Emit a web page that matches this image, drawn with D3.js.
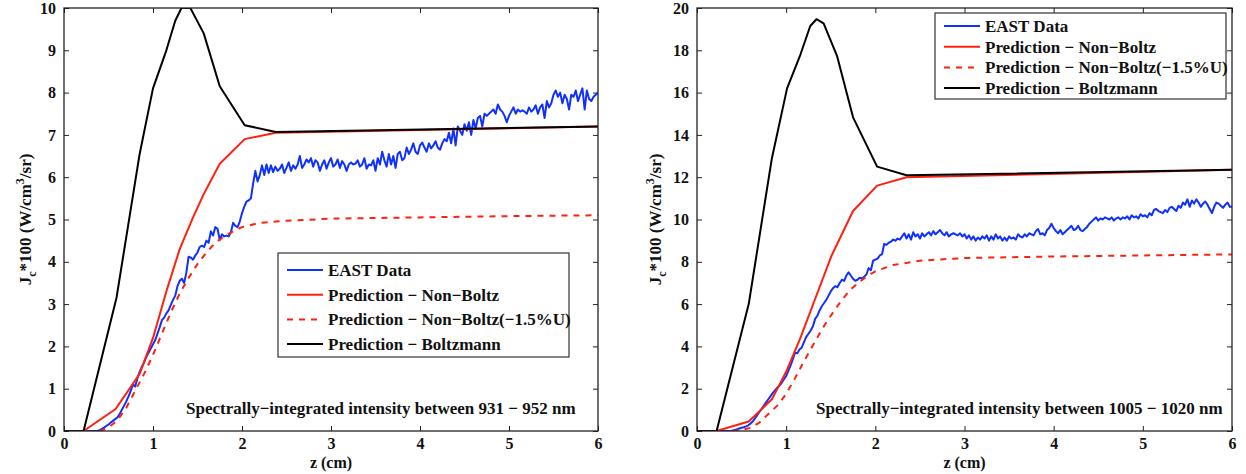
<!DOCTYPE html>
<html>
<head>
<meta charset="utf-8">
<script src="https://d3js.org/d3.v7.min.js"></script>
<style>
  body { margin: 0; background: #fff; }
  svg text { font-family: "Liberation Serif", "Times New Roman", Times, "DejaVu Serif", serif; font-weight: bold; fill: #111; }
</style>
</head>
<body>
<div id="chart"></div>
<script>
"use strict";

// sampling grid of the measured (EAST) profiles
var eastZ0 = 0.25, eastDz = 0.025;

// ---- left panel: 931 - 952 nm ----
var eastLeft = [
  0, 0, 0, 0, 0, 0, 0.02, 0.05, 0.08, 0.12,
  0.15, 0.2, 0.24, 0.28, 0.32, 0.4, 0.5, 0.6, 0.7, 0.82,
  0.95, 1.1, 1.05, 1.25, 1.4, 1.52, 1.62, 1.75, 1.85, 1.95,
  2.05, 2.15, 2.3, 2.45, 2.62, 2.68, 2.78, 2.85, 2.98, 3.1,
  3.2, 3.42, 3.55, 3.6, 3.5, 3.75, 4.12, 4.1, 4.05, 4.15,
  4.22, 4.35, 4.38, 4.35, 4.5, 4.45, 4.72, 4.62, 4.82, 4.78,
  4.52, 4.65, 4.6, 4.62, 4.6, 4.7, 4.92, 4.85, 4.82, 4.95,
  5.15, 5.3, 5.42, 5.45, 5.5, 5.85, 6.15, 5.9, 6.05, 6.28,
  6.05, 6.3, 6.1, 6.28, 6.12, 6.25, 6.15, 6.2, 6.3, 6.1,
  6.22, 6.35, 6.15, 6.28, 6.2, 6.3, 6.5, 6.22, 6.3, 6.42,
  6.35, 6.45, 6.25, 6.4, 6.35, 6.15, 6.3, 6.4, 6.2, 6.35,
  6.45, 6.25, 6.3, 6.42, 6.22, 6.38, 6.3, 6.15, 6.3, 6.35,
  6.3, 6.32, 6.4, 6.25, 6.3, 6.45, 6.2, 6.3, 6.28, 6.4,
  6.15, 6.45, 6.3, 6.6, 6.4, 6.25, 6.55, 6.3, 6.5, 6.22,
  6.55, 6.6, 6.4, 6.45, 6.7, 6.55, 6.65, 6.8, 6.6, 6.55,
  6.75, 6.82, 6.7, 6.6, 6.8, 6.68, 6.75, 6.85, 6.7, 6.65,
  6.8, 6.9, 6.85, 7.05, 6.8, 7.15, 6.75, 7.2, 7.1, 7.0,
  7.25, 7.1, 7.3, 7.0, 7.35, 7.15, 7.4, 7.45, 7.2, 7.5,
  7.45, 7.5, 7.55, 7.6, 7.5, 7.72, 7.6, 7.55, 7.45, 7.3,
  7.45, 7.55, 7.65, 7.5, 7.6, 7.55, 7.58, 7.55, 7.5, 7.65,
  7.55, 7.6, 7.7, 7.5, 7.65, 7.72, 7.4, 7.8, 7.65, 7.75,
  7.95, 8.05, 7.9, 8.0, 7.75, 7.95, 7.85, 7.6, 7.95, 7.9,
  8.05, 7.8, 7.95, 8.1, 7.6, 8.05, 7.85, 7.8, 7.9, 7.95,
  8.0
];
var nonBoltzLeftZ = [0, 0.22, 0.58, 0.85, 1.0, 1.15, 1.3, 1.45, 1.57, 1.75, 2.03, 2.38, 6];
var nonBoltzLeft  = [0, 0, 0.52, 1.35, 2.2, 3.3, 4.3, 5.05, 5.6, 6.32, 6.9, 7.05, 7.2];
var shiftedLeftZ = [0.4, 0.5, 0.6, 0.7, 0.8, 0.9, 1.0, 1.1, 1.2, 1.3, 1.4, 1.5, 1.6, 1.7, 1.8, 1.9, 2.0, 2.2, 2.5, 3.0, 4.0, 5.0, 6.0];
var shiftedLeft  = [0, 0.08, 0.25, 0.55, 0.95, 1.35, 1.8, 2.3, 2.8, 3.25, 3.62, 3.95, 4.22, 4.45, 4.6, 4.72, 4.82, 4.92, 4.97, 5.02, 5.05, 5.08, 5.1];
var boltzLeftZ = [0, 0.22, 0.59, 0.85, 1.0, 1.15, 1.25, 1.32, 1.42, 1.57, 1.75, 2.03, 2.38, 6];
var boltzLeft  = [0, 0, 3.15, 6.55, 8.1, 9.0, 9.7, 10.0, 10.0, 9.4, 8.15, 7.23, 7.07, 7.2];
var yTicksLeft = [0, 1, 2, 3, 4, 5, 6, 7, 8, 9, 10];

// ---- right panel: 1005 - 1020 nm ----
var eastRight = [
  0, 0, 0, 0, 0, 0, 0.02, 0.05, 0.08, 0.12,
  0.15, 0.18, 0.22, 0.27, 0.35, 0.45, 0.6, 0.75, 0.9, 1.05,
  1.2, 1.35, 1.5, 1.65, 1.8, 1.92, 2.05, 2.15, 2.28, 2.45,
  2.6, 2.85, 3.1, 3.4, 3.7, 3.68, 3.85, 3.95, 4.2, 4.45,
  4.6, 4.75, 4.95, 5.3, 5.45, 5.7, 5.9, 6.05, 6.2, 6.4,
  6.6, 6.75, 6.85, 6.8, 7.0, 7.15, 7.1, 7.35, 7.5, 7.35,
  7.2, 7.1, 7.15, 7.25, 7.2, 7.3, 7.4, 7.7, 7.6, 8.05,
  8.1, 8.15, 8.3, 8.35, 8.85, 8.8, 8.9, 8.95, 9.05, 9.0,
  9.1, 9.05, 9.2, 9.35, 9.1, 9.3, 9.05, 9.4, 9.2, 9.3,
  9.1, 9.35, 9.2, 9.3, 9.4, 9.25, 9.45, 9.3, 9.4, 9.5,
  9.35, 9.25, 9.4, 9.2, 9.3, 9.35, 9.3, 9.25, 9.35, 9.2,
  9.3, 9.1, 9.25, 9.05, 9.2, 9.0, 9.15, 9.05, 9.2, 9.1,
  9.25, 9.0, 9.2, 9.05, 9.3, 9.1, 9.2, 9.0, 9.15, 9.0,
  9.2, 9.1, 9.15, 9.05, 9.3, 9.2, 9.15, 9.3, 9.2, 9.35,
  9.3, 9.25, 9.45, 9.55, 9.3, 9.35, 9.25, 9.5, 9.6, 9.8,
  9.6, 9.45, 9.35, 9.5, 9.3, 9.4, 9.5, 9.6, 9.7, 9.5,
  9.55, 9.7, 9.5, 9.45, 9.55, 9.65, 9.8, 9.9, 10.0, 10.1,
  9.95, 10.05, 10.0, 10.1, 10.05, 10.0, 10.1, 9.95, 10.05, 10.1,
  10.0, 10.1, 10.05, 10.15, 10.0, 10.2, 10.1, 10.15, 10.05, 10.25,
  10.15, 10.2, 10.1, 10.3, 10.2, 10.45, 10.5, 10.4, 10.35, 10.3,
  10.45, 10.35, 10.55, 10.6, 10.5, 10.4, 10.65, 10.55, 10.8, 10.7,
  10.95, 10.6, 10.9, 10.75, 10.95, 10.8, 10.6, 10.75, 10.85, 10.7,
  10.5, 10.3, 10.6, 10.8, 10.75, 10.65, 10.55, 10.7, 10.8, 10.6,
  10.6
];
var nonBoltzRightZ = [0, 0.22, 0.58, 0.84, 1.0, 1.16, 1.33, 1.51, 1.75, 2.02, 2.35, 6];
var nonBoltzRight  = [0, 0, 0.45, 1.5, 2.8, 4.4, 6.3, 8.3, 10.4, 11.6, 12.0, 12.35];
var shiftedRightZ = [0.4, 0.5, 0.6, 0.7, 0.8, 0.9, 1.0, 1.1, 1.2, 1.3, 1.4, 1.5, 1.6, 1.7, 1.8, 1.9, 2.0, 2.2, 2.5, 3.0, 4.0, 5.0, 6.0];
var shiftedRight  = [0, 0.05, 0.15, 0.4, 0.8, 1.2, 1.75, 2.5, 3.3, 4.05, 4.8, 5.45, 6.05, 6.6, 6.98, 7.3, 7.55, 7.85, 8.05, 8.18, 8.25, 8.3, 8.35];
var boltzRightZ = [0, 0.22, 0.58, 0.84, 1.01, 1.16, 1.27, 1.34, 1.42, 1.57, 1.75, 2.02, 2.35, 6];
var boltzRight  = [0, 0, 6.0, 12.9, 16.2, 17.8, 19.15, 19.47, 19.27, 17.74, 14.83, 12.5, 12.09, 12.35];
var yTicksRight = [0, 2, 4, 6, 8, 10, 12, 14, 16, 18, 20];

var xTicks = [0, 1, 2, 3, 4, 5, 6];
var legendLabels = ["EAST Data", "Prediction \u2212 Non\u2212Boltz",
                    "Prediction \u2212 Non\u2212Boltz(\u22121.5%U)", "Prediction \u2212 Boltzmann"];

var BLUE = "#1030ff", RED = "#ff2010", BLACK = "#000";
var FONT = "'Liberation Serif', 'Times New Roman', Times, 'DejaVu Serif', serif";

var W = 1246, H = 474;
var svg = d3.select("#chart").append("svg").attr("width", W).attr("height", H);
svg.append("rect").attr("width", W).attr("height", H).attr("fill", "#fff");

function pairs(zs, vs) {
  return vs.map(function (v, i) { return [zs[i], v]; });
}
function gridPairs(vs) {
  return vs.map(function (v, i) { return [eastZ0 + i * eastDz, v]; });
}

function drawPanel(p) {
  var x = d3.scaleLinear().domain([0, 6]).range([p.left, p.right]);
  var y = d3.scaleLinear().domain([0, p.yMax]).range([p.bottom, p.top]);
  var g = svg.append("g");
  var fmt = d3.format("d");

  var clipId = "clip" + p.id;
  svg.append("clipPath").attr("id", clipId).append("rect")
    .attr("x", p.left).attr("y", p.top)
    .attr("width", p.right - p.left).attr("height", p.bottom - p.top);

  // ticks on all four sides, pointing inwards
  g.append("g").attr("transform", "translate(0," + p.bottom + ")")
    .call(d3.axisBottom(x).tickValues(xTicks).tickFormat(fmt).tickSizeInner(-5).tickSizeOuter(0).tickPadding(7));
  g.append("g").attr("transform", "translate(0," + p.top + ")")
    .call(d3.axisTop(x).tickValues(xTicks).tickSizeInner(-5).tickSizeOuter(0).tickFormat(""));
  g.append("g").attr("transform", "translate(" + p.left + ",0)")
    .call(d3.axisLeft(y).tickValues(p.yTicks).tickFormat(fmt).tickSizeInner(-5).tickSizeOuter(0).tickPadding(8));
  g.append("g").attr("transform", "translate(" + p.right + ",0)")
    .call(d3.axisRight(y).tickValues(p.yTicks).tickSizeInner(-5).tickSizeOuter(0).tickFormat(""));
  g.selectAll(".domain").remove();
  g.selectAll("g").attr("font-family", FONT).attr("font-size", 16);
  g.selectAll(".tick line").attr("stroke", "#222");
  g.selectAll(".tick text").style("font-size", "16px")
    .style("font-family", FONT).style("font-weight", "bold").attr("fill", "#111");

  var line = d3.line().x(function (d) { return x(d[0]); }).y(function (d) { return y(d[1]); });
  var plot = svg.append("g").attr("clip-path", "url(#" + clipId + ")");
  var series = [
    { d: gridPairs(p.east), color: BLUE, dash: null },
    { d: pairs(p.nbZ, p.nb), color: RED, dash: null },
    { d: pairs(p.shZ, p.sh), color: RED, dash: "6,6" },
    { d: pairs(p.bzZ, p.bz), color: BLACK, dash: null }
  ];
  series.forEach(function (s) {
    plot.append("path").datum(s.d).attr("d", line)
      .attr("fill", "none").attr("stroke", s.color).attr("stroke-width", 2)
      .attr("stroke-dasharray", s.dash).attr("stroke-linejoin", "round");
  });

  // axis box
  svg.append("rect").attr("x", p.left).attr("y", p.top)
    .attr("width", p.right - p.left).attr("height", p.bottom - p.top)
    .attr("fill", "none").attr("stroke", "#222").attr("stroke-width", 1.3);

  // axis titles
  svg.append("text").attr("x", (p.left + p.right) / 2).attr("y", 468)
    .attr("text-anchor", "middle").style("font-size", "16px").text("z (cm)");
  var yl = svg.append("text")
    .attr("transform", "translate(" + p.ylabelX + "," + ((p.top + p.bottom) / 2) + ") rotate(-90)")
    .attr("text-anchor", "middle").style("font-size", "17px");
  yl.append("tspan").text("J");
  yl.append("tspan").attr("dy", 5).style("font-size", "12px").text("c");
  yl.append("tspan").attr("dy", -5).text("*100 (W/cm");
  yl.append("tspan").attr("dy", -7).style("font-size", "12px").text("3");
  yl.append("tspan").attr("dy", 7).text("/sr)");

  // annotation
  svg.append("text").attr("x", p.noteX).attr("y", 414)
    .style("font-size", "17px").text(p.note);

  // legend
  var L = p.legend;
  svg.append("rect").attr("x", L.x).attr("y", L.y).attr("width", L.w).attr("height", L.h)
    .attr("fill", "#fff").attr("stroke", "#333").attr("stroke-width", 1.2);
  series.forEach(function (s, i) {
    var cy = L.y + L.first + i * L.step;
    svg.append("line").attr("x1", L.x + 9).attr("x2", L.x + 45).attr("y1", cy).attr("y2", cy)
      .attr("stroke", s.color).attr("stroke-width", 2).attr("stroke-dasharray", s.dash);
    svg.append("text").attr("x", L.x + 50).attr("y", cy + 6)
      .style("font-size", "17px").text(legendLabels[i]);
  });
}

drawPanel({
  id: "L", left: 64, right: 598, top: 8, bottom: 431, yMax: 10, yTicks: yTicksLeft,
  east: eastLeft, nbZ: nonBoltzLeftZ, nb: nonBoltzLeft, shZ: shiftedLeftZ, sh: shiftedLeft,
  bzZ: boltzLeftZ, bz: boltzLeft, ylabelX: 31,
  note: "Spectrally\u2212integrated intensity between 931 \u2212 952 nm", noteX: 186,
  legend: { x: 278, y: 253, w: 291, h: 104, first: 17, step: 24.7 }
});
drawPanel({
  id: "R", left: 697, right: 1232, top: 8, bottom: 431, yMax: 20, yTicks: yTicksRight,
  east: eastRight, nbZ: nonBoltzRightZ, nb: nonBoltzRight, shZ: shiftedRightZ, sh: shiftedRight,
  bzZ: boltzRightZ, bz: boltzRight, ylabelX: 661,
  note: "Spectrally\u2212integrated intensity between 1005 \u2212 1020 nm", noteX: 816,
  legend: { x: 935, y: 13, w: 291, h: 86, first: 13, step: 20.7 }
});
</script>
</body>
</html>
